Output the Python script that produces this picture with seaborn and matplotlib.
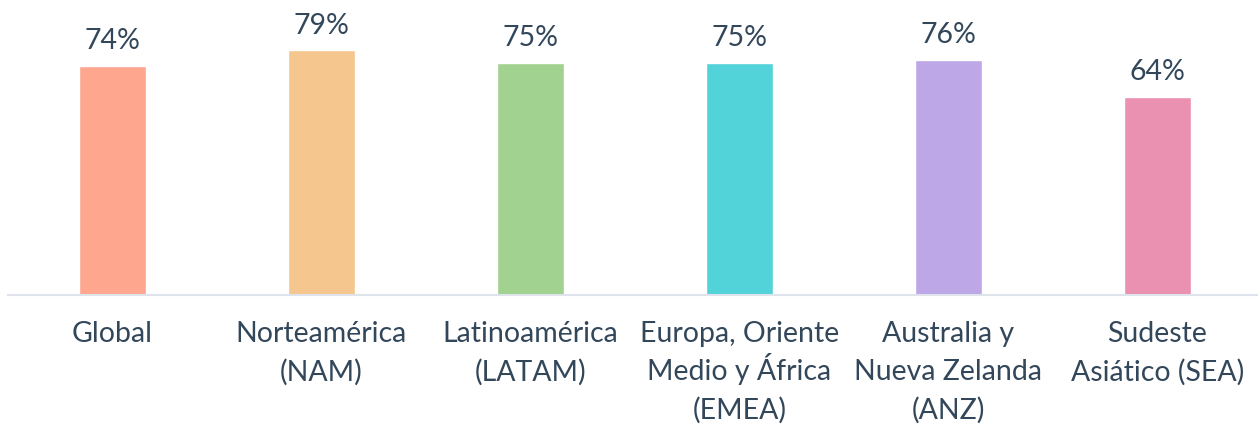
import pandas as pd
import seaborn as sns
import matplotlib.pyplot as plt

# Chart data
regions = ["Global", "Norteamérica\n(NAM)", "Latinoamérica\n(LATAM)",
           "Europa, Oriente\nMedio y África\n(EMEA)", "Australia y\nNueva Zelanda\n(ANZ)",
           "Sudeste\nAsiático (SEA)"]
values = [74, 79, 75, 75, 76, 64]
colors = ["#FEA68E", "#F5C68D", "#A2D28F", "#51D3D9", "#BDA7E7", "#EA90B0"]

df = pd.DataFrame({"Region": regions, "Value": values})

sns.set_style("white")
plt.rcParams["font.family"] = ["Lato", "DejaVu Sans"]
text_color = "#33475B"
fsize = 20.5

fig = plt.figure(figsize=(12.58, 4.25), dpi=100)
ax = fig.add_axes([8 / 1258, 1 - 295 / 425, 1254 / 1258, 295 / 425])

sns.barplot(data=df, x="Region", y="Value", hue="Region", palette=colors,
            legend=False, width=0.316, saturation=1, ax=ax)

# value labels above bars
for i, v in enumerate(values):
    ax.annotate(f"{v}%", xy=(i, v), xytext=(0, 12), textcoords="offset points",
                ha="center", va="baseline", fontsize=fsize, color=text_color)

# category labels, one line at a time so spacing stays even
ax.set_xticks(range(len(regions)))
ax.set_xticklabels([])
for i, name in enumerate(regions):
    for j, line in enumerate(name.split("\n")):
        ax.annotate(line, xy=(i, 0), xycoords=("data", "axes fraction"),
                    xytext=(0, -34 - 27.4 * j), textcoords="offset points",
                    ha="center", va="baseline", fontsize=fsize, color=text_color)

ax.set_ylim(0, 95.3)
ax.set_xlim(-0.5, 5.5)
ax.set_xlabel("")
ax.set_ylabel("")
ax.set_yticks([])
ax.tick_params(axis="x", length=0)
for side in ["top", "right", "left"]:
    ax.spines[side].set_visible(False)
ax.spines["bottom"].set_color("#DFE3EB")
ax.spines["bottom"].set_linewidth(1.5)

fig.savefig("out.png", dpi=100)
